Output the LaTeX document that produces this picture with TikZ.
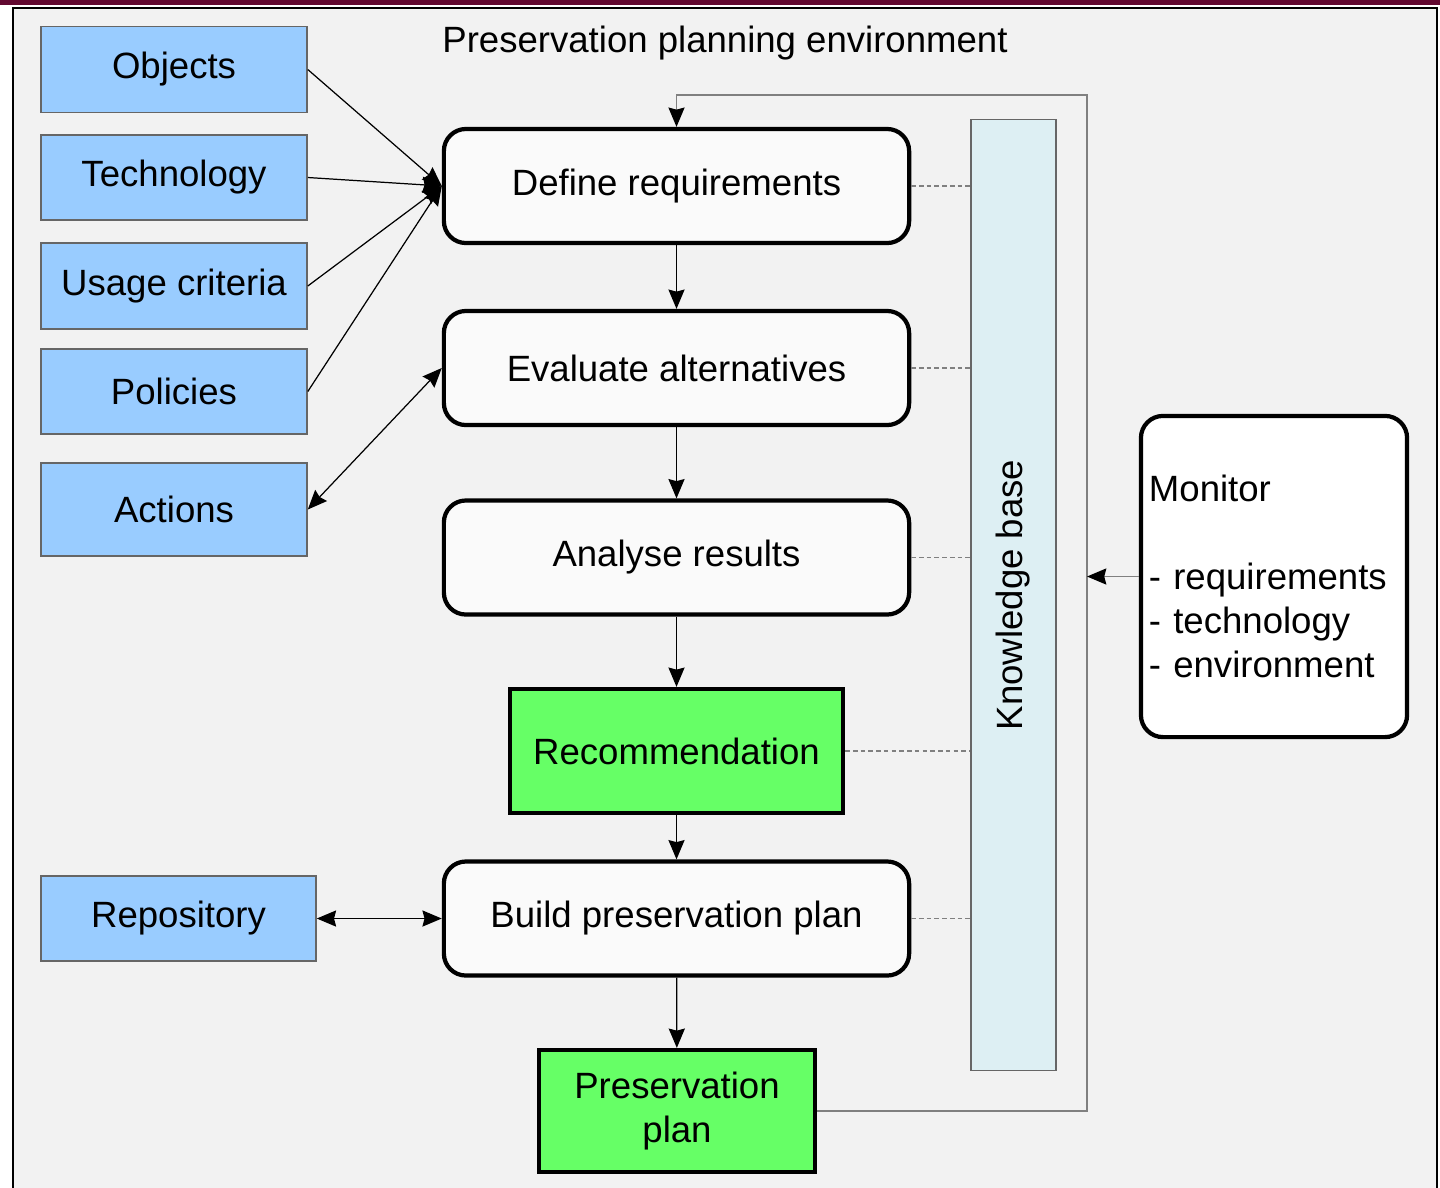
\documentclass[tikz,border=0pt]{standalone}
\usepackage{fontspec}
\setmainfont{Liberation Sans}
\usepackage{tikz}
\usetikzlibrary{arrows.meta}

\definecolor{framegray}{RGB}{242,242,242}
\definecolor{inblue}{RGB}{153,204,255}
\definecolor{kbcyan}{RGB}{221,239,243}
\definecolor{okgreen}{RGB}{102,255,102}
\definecolor{topbar}{RGB}{98,8,48}

\begin{document}
\begin{tikzpicture}[x=0.01cm, y=-0.01cm,
		font=\fontsize{10.4}{12.5}\selectfont,
		inbox/.style={draw=black!60, fill=inblue, line width=0.4pt, minimum width=2.66cm, minimum height=0.86cm, inner sep=0pt},
		stepbox/.style={draw, fill=white!98!black, line width=1.2pt, rounded corners=0.22cm, minimum width=4.65cm, minimum height=1.14cm, inner sep=0pt},
		resbox/.style={draw, fill=okgreen, line width=1.2pt, inner sep=0pt, align=center},
		flow/.style={line width=0.35pt, -{Stealth[length=5.5pt, width=4.6pt, inset=0.6pt, color=black]}},
		both/.style={line width=0.35pt, {Stealth[length=5.5pt, width=4.6pt, inset=0.6pt]}-{Stealth[length=5.5pt, width=4.6pt, inset=0.6pt]}},
		kblink/.style={draw=black!50, line width=0.35pt, dash pattern=on 1.3pt off 0.9pt}]
		\useasboundingbox (0, 0) rectangle (1440, 1187);
		\fill [topbar] (0, 0) rectangle (1440, 5);
		\draw [fill=framegray, line width=0.6pt] (13, 8) rectangle (1437, 1200);
		\node (title) at (725, 43) {Preservation planning environment};

		\node [inbox] (objects) at (174, 69.5) {Objects};
		\node [inbox, minimum height=0.85cm] (technology) at (174, 177.5) {Technology};
		\node [inbox] (usage) at (174, 286) {Usage criteria};
		\node [inbox, minimum height=0.85cm] (policies) at (174, 391.5) {Policies};
		\node [inbox, minimum height=0.93cm] (actions) at (174, 509.5) {Actions};
		\node [inbox, minimum width=2.75cm, minimum height=0.85cm] (repository) at (178.5, 918.5) {Repository};

		\node [stepbox] (define) at (676.5, 186) {Define requirements};
		\node [stepbox] (evaluate) at (676.5, 368) {Evaluate alternatives};
		\node [stepbox] (analyse) at (676.5, 557.5) {Analyse results};
		\node [resbox, minimum width=3.33cm, minimum height=1.24cm] (recommend) at (676.5, 751) {Recommendation};
		\node [stepbox] (build) at (676.5, 918.5) {Build preservation plan};
		\node [resbox, minimum width=2.76cm, minimum height=1.22cm] (pplan) at (677, 1111) {Preservation\\plan};

		\node [draw=black!60, fill=kbcyan, line width=0.4pt, minimum width=0.85cm, minimum height=9.5cm, inner sep=0pt] (kb) at (1013.5, 595) {};
		\node [rotate=90] (kblabel) at (kb.center) {Knowledge base};

		\node [draw, fill=white, line width=1.2pt, rounded corners=0.22cm, minimum width=2.66cm, minimum height=3.21cm, text width=2.5cm, align=left, inner sep=0.08cm] (monitor) at (1274, 576.5) {Monitor\\[12.5pt]- requirements\\- technology\\- environment};

		\coordinate (fbcorner) at (1087, 95);

		\draw [flow] (define) -- (evaluate);
		\draw [flow] (evaluate) -- (analyse);
		\draw [flow] (analyse) -- (recommend);
		\draw [flow] (recommend) -- (build);
		\draw [flow] (build) -- (pplan);

		\draw [flow] (objects.east) -- (define.west);
		\draw [flow] (technology.east) -- (define.west);
		\draw [flow] (usage.east) -- (define.west);
		\draw [flow] (policies.east) -- (define.west);
		\draw [both] (actions.east) -- (evaluate.west);
		\draw [both] (repository.east) -- (build.west);

		\draw [flow, draw=black!50] (pplan.east) -| (fbcorner) -| (define.north);
		\draw [flow, draw=black!50] (monitor.west) -- (monitor.west -| fbcorner);

		\draw [kblink] (define.east) -- (define.east -| kb.west);
		\draw [kblink] (evaluate.east) -- (evaluate.east -| kb.west);
		\draw [kblink] (analyse.east) -- (analyse.east -| kb.west);
		\draw [kblink] (recommend.east) -- (recommend.east -| kb.west);
		\draw [kblink] (build.east) -- (build.east -| kb.west);
	\end{tikzpicture}
\end{document}
